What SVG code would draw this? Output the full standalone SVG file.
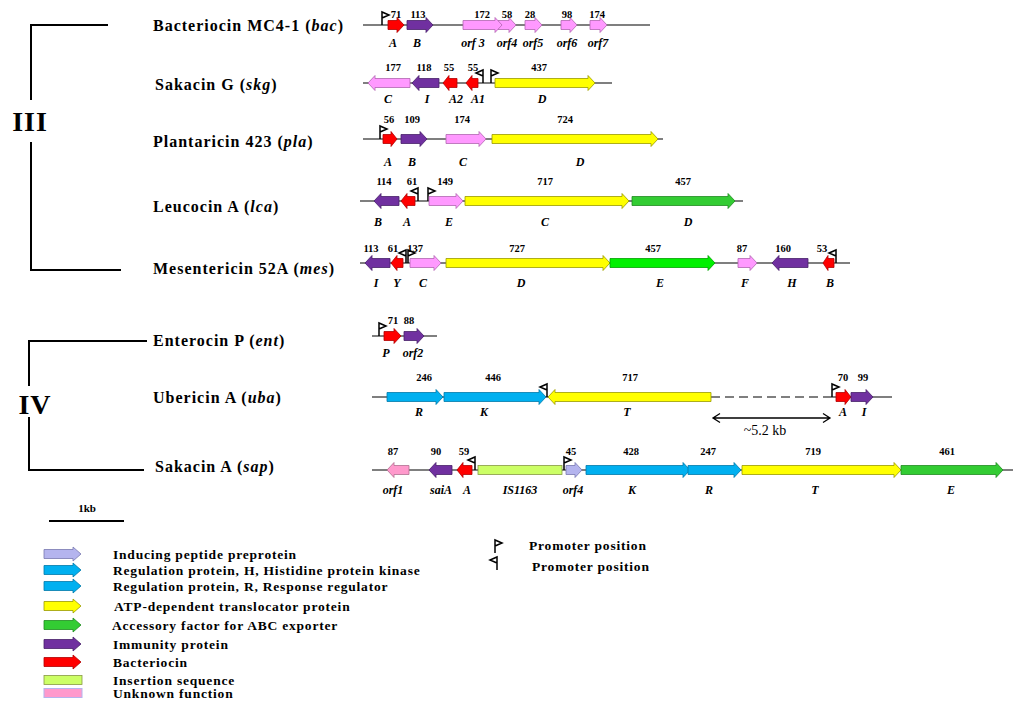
<svg xmlns="http://www.w3.org/2000/svg" xmlns:xlink="http://www.w3.org/1999/xlink" width="1024" height="709" viewBox="0 0 1024 709">
<style>
text{font-family:"Liberation Serif","Times New Roman",serif;fill:#000}
.num{font-size:10.5px;font-weight:bold;text-anchor:middle}
.gl{font-size:12px;font-weight:bold;font-style:italic;text-anchor:middle}
.rl{font-size:16px;font-weight:bold;letter-spacing:1px}
.lg{font-size:13.5px;font-weight:bold;letter-spacing:0.8px}
.it{font-style:italic}
.cls{font-size:28px;font-weight:bold;text-anchor:middle;letter-spacing:1px}
.bb{stroke:#555;stroke-width:1.5;fill:none}
.tree{stroke:#000;stroke-width:2;fill:none}
.red{fill:#ff0000;stroke:#b00000;stroke-width:0.8}
.pur{fill:#7030a0;stroke:#48206a;stroke-width:0.8}
.pink{fill:#ff99ff;stroke:#b066b0;stroke-width:0.8}
.rose{fill:#ff99cc;stroke:#b07090;stroke-width:0.8}
.yel{fill:#ffff00;stroke:#999900;stroke-width:0.8}
.grn{fill:#33cc33;stroke:#1f8a1f;stroke-width:0.8}
.lime{fill:#00f000;stroke:#00a000;stroke-width:0.8}
.blue{fill:#00b0f0;stroke:#0078a8;stroke-width:0.8}
.lav{fill:#b4b4ee;stroke:#7878b0;stroke-width:0.8}
.ins{fill:#ccff66;stroke:#889944;stroke-width:0.8}
.prom{fill:#fff;stroke:#000;stroke-width:1.5}
</style>
<defs>
<path id="pR" d="M0,0 V-13 L7,-10 L0,-7"/>
<path id="pL" d="M0,0 V-13 L-7,-10 L0,-7"/>
</defs>
<rect width="1024" height="709" fill="#fff"/>

<g id="connectors">
<path class="tree" d="M108,25 H31 V100 M31,142 V270 H121"/>
<path class="tree" d="M147,341 H29 V386 M29,417 V470 H144"/>
<path class="tree" d="M49,521 H124"/>
<path class="bb" d="M363,25 H650"/>
<path class="bb" d="M363,83 H612"/>
<path class="bb" d="M363,139 H663"/>
<path class="bb" d="M360,201 H743"/>
<path class="bb" d="M360,263 H850"/>
<path class="bb" d="M372,336 H437"/>
<path class="bb" d="M372,397 H711 M832,397 H892"/>
<path class="bb" d="M711,397 H832" stroke-dasharray="9,5"/>
<path class="bb" d="M372,470 H1013"/>
<path d="M713,418 H830 M720,413.5 L713,418 L720,422.5 M823,413.5 L830,418 L823,422.5" fill="none" stroke="#000" stroke-width="1.3"/>
</g>

<g id="labels">
<text class="cls" x="30" y="131">III</text>
<text class="cls" x="35" y="414">IV</text>
<text x="87" y="512" style="font-size:11px;font-weight:bold;text-anchor:middle">1kb</text>
<text x="765" y="435" style="font-size:14px;text-anchor:middle">~5.2 kb</text>
</g>

<g id="row-bac">
<text class="rl" x="153" y="31">Bacteriocin MC4-1  (<tspan class="it">bac</tspan>)</text>
<use href="#pR" x="382" y="25" class="prom"/>
<polygon class="red" points="388,20.5 397,20.5 397,17.5 404,25 397,32.5 397,29.5 388,29.5"/>
<polygon class="pur" points="407,20.5 426,20.5 426,17.5 433,25 426,32.5 426,29.5 407,29.5"/>
<polygon class="pink" points="498,20.5 509,20.5 509,17.5 516,25 509,32.5 509,29.5 498,29.5"/>
<polygon class="pink" points="463,20.5 495,20.5 495,17.5 502,25 495,32.5 495,29.5 463,29.5"/>
<polygon class="pink" points="525,20.5 535,20.5 535,17.5 542,25 535,32.5 535,29.5 525,29.5"/>
<polygon class="pink" points="561,20.5 570,20.5 570,17.5 577,25 570,32.5 570,29.5 561,29.5"/>
<polygon class="pink" points="590,20.5 600,20.5 600,17.5 607,25 600,32.5 600,29.5 590,29.5"/>
<text class="num" x="396" y="18">71</text><text class="num" x="418" y="18">113</text><text class="num" x="482" y="18">172</text><text class="num" x="507" y="18">58</text><text class="num" x="530" y="18">28</text><text class="num" x="567" y="18">98</text><text class="num" x="597" y="18">174</text>
<text class="gl" x="393" y="47">A</text><text class="gl" x="417" y="47">B</text><text class="gl" x="473" y="47">orf 3</text><text class="gl" x="507" y="47">orf4</text><text class="gl" x="533" y="47">orf5</text><text class="gl" x="567" y="47">orf6</text><text class="gl" x="598" y="47">orf7</text>
</g>

<g id="row-skg">
<text class="rl" x="155" y="90">Sakacin G (<tspan class="it">skg</tspan>)</text>
<polygon class="pink" points="410,78.5 375,78.5 375,75.5 368,83 375,90.5 375,87.5 410,87.5"/>
<polygon class="pur" points="439,78.5 419,78.5 419,75.5 412,83 419,90.5 419,87.5 439,87.5"/>
<polygon class="red" points="457,78.5 449,78.5 449,75.5 443,83 449,90.5 449,87.5 457,87.5"/>
<polygon class="red" points="478,78.5 472,78.5 472,75.5 466,83 472,90.5 472,87.5 478,87.5"/>
<use href="#pL" x="483" y="83" class="prom"/>
<use href="#pR" x="491" y="83" class="prom"/>
<polygon class="yel" points="495,78.5 588,78.5 588,75.5 595,83 588,90.5 588,87.5 495,87.5"/>
<text class="num" x="393" y="71">177</text><text class="num" x="424" y="71">118</text><text class="num" x="449" y="71">55</text><text class="num" x="473" y="71">55</text><text class="num" x="539" y="71">437</text>
<text class="gl" x="388" y="103">C</text><text class="gl" x="427" y="103">I</text><text class="gl" x="456" y="103">A2</text><text class="gl" x="478" y="103">A1</text><text class="gl" x="542" y="103">D</text>
</g>

<g id="row-pla">
<text class="rl" x="153" y="147">Plantaricin 423 (<tspan class="it">pla</tspan>)</text>
<use href="#pR" x="380" y="139" class="prom"/>
<polygon class="red" points="383,134.5 391,134.5 391,131.5 397,139 391,146.5 391,143.5 383,143.5"/>
<polygon class="pur" points="401,134.5 420,134.5 420,131.5 427,139 420,146.5 420,143.5 401,143.5"/>
<polygon class="pink" points="446,134.5 479,134.5 479,131.5 486,139 479,146.5 479,143.5 446,143.5"/>
<polygon class="yel" points="492,134.5 651,134.5 651,131.5 658,139 651,146.5 651,143.5 492,143.5"/>
<text class="num" x="389" y="123">56</text><text class="num" x="412" y="123">109</text><text class="num" x="462" y="123">174</text><text class="num" x="565" y="123">724</text>
<text class="gl" x="388" y="166">A</text><text class="gl" x="412" y="166">B</text><text class="gl" x="463" y="166">C</text><text class="gl" x="580" y="166">D</text>
</g>

<g id="row-lca">
<text class="rl" x="153" y="212">Leucocin A  (<tspan class="it">lca</tspan>)</text>
<polygon class="pur" points="399,196.5 381,196.5 381,193.5 374,201 381,208.5 381,205.5 399,205.5"/>
<polygon class="red" points="415,196.5 407,196.5 407,193.5 401,201 407,208.5 407,205.5 415,205.5"/>
<use href="#pL" x="418" y="201" class="prom"/>
<use href="#pR" x="428" y="201" class="prom"/>
<polygon class="pink" points="429,196.5 456,196.5 456,193.5 463,201 456,208.5 456,205.5 429,205.5"/>
<polygon class="yel" points="465,196.5 622,196.5 622,193.5 629,201 622,208.5 622,205.5 465,205.5"/>
<polygon class="grn" points="632,196.5 728,196.5 728,193.5 735,201 728,208.5 728,205.5 632,205.5"/>
<text class="num" x="384" y="185">114</text><text class="num" x="412" y="185">61</text><text class="num" x="445" y="185">149</text><text class="num" x="545" y="185">717</text><text class="num" x="683" y="185">457</text>
<text class="gl" x="378" y="226">B</text><text class="gl" x="407" y="226">A</text><text class="gl" x="449" y="226">E</text><text class="gl" x="545" y="226">C</text><text class="gl" x="688" y="226">D</text>
</g>

<g id="row-mes">
<text class="rl" x="153" y="274">Mesentericin 52A  (<tspan class="it">mes</tspan>)</text>
<polygon class="pur" points="390,258.5 372,258.5 372,255.5 365,263 372,270.5 372,267.5 390,267.5"/>
<polygon class="red" points="403,258.5 397,258.5 397,255.5 391,263 397,270.5 397,267.5 403,267.5"/>
<use href="#pL" x="406" y="263" class="prom"/>
<use href="#pR" x="408" y="263" class="prom"/>
<polygon class="pink" points="410,258.5 434,258.5 434,255.5 441,263 434,270.5 434,267.5 410,267.5"/>
<polygon class="yel" points="446,258.5 603,258.5 603,255.5 610,263 603,270.5 603,267.5 446,267.5"/>
<polygon class="lime" points="610,258.5 708,258.5 708,255.5 715,263 708,270.5 708,267.5 610,267.5"/>
<polygon class="pink" points="738,258.5 750,258.5 750,255.5 757,263 750,270.5 750,267.5 738,267.5"/>
<polygon class="pur" points="808,258.5 779,258.5 779,255.5 772,263 779,270.5 779,267.5 808,267.5"/>
<polygon class="red" points="834,258.5 828,258.5 828,255.5 823,263 828,270.5 828,267.5 834,267.5"/>
<use href="#pL" x="836" y="263" class="prom"/>
<text class="num" x="371" y="252">113</text><text class="num" x="393" y="252">61</text><text class="num" x="415" y="252">137</text><text class="num" x="517" y="252">727</text><text class="num" x="653" y="252">457</text><text class="num" x="742" y="252">87</text><text class="num" x="783" y="252">160</text><text class="num" x="822" y="252">53</text>
<text class="gl" x="376" y="287">I</text><text class="gl" x="397" y="287">Y</text><text class="gl" x="423" y="287">C</text><text class="gl" x="521" y="287">D</text><text class="gl" x="660" y="287">E</text><text class="gl" x="745" y="287">F</text><text class="gl" x="792" y="287">H</text><text class="gl" x="830" y="287">B</text>
</g>

<g id="row-ent">
<text class="rl" x="153" y="346">Enterocin P (<tspan class="it">ent</tspan>)</text>
<use href="#pR" x="379" y="336" class="prom"/>
<polygon class="red" points="384,331.5 394,331.5 394,328.5 401,336 394,343.5 394,340.5 384,340.5"/>
<polygon class="pur" points="404,331.5 417,331.5 417,328.5 424,336 417,343.5 417,340.5 404,340.5"/>
<text class="num" x="393" y="324">71</text><text class="num" x="409" y="324">88</text>
<text class="gl" x="386" y="357">P</text><text class="gl" x="413" y="357">orf2</text>
</g>

<g id="row-uba">
<text class="rl" x="153" y="403">Ubericin A  (<tspan class="it">uba</tspan>)</text>
<polygon class="blue" points="387,392.5 436,392.5 436,389.5 443,397 436,404.5 436,401.5 387,401.5"/>
<polygon class="blue" points="444,392.5 539,392.5 539,389.5 546,397 539,404.5 539,401.5 444,401.5"/>
<polygon class="yel" points="711,392.5 555,392.5 555,389.5 548,397 555,404.5 555,401.5 711,401.5"/>
<use href="#pL" x="547" y="397" class="prom"/>
<use href="#pR" x="832" y="397" class="prom"/>
<polygon class="red" points="836,392.5 845,392.5 845,389.5 851,397 845,404.5 845,401.5 836,401.5"/>
<polygon class="pur" points="851,392.5 866,392.5 866,389.5 873,397 866,404.5 866,401.5 851,401.5"/>
<text class="num" x="424" y="381">246</text><text class="num" x="493" y="381">446</text><text class="num" x="630" y="381">717</text><text class="num" x="843" y="381">70</text><text class="num" x="863" y="381">99</text>
<text class="gl" x="419" y="416">R</text><text class="gl" x="484" y="416">K</text><text class="gl" x="627" y="416">T</text><text class="gl" x="843" y="416">A</text><text class="gl" x="864" y="416">I</text>
</g>

<g id="row-sap">
<text class="rl" x="155" y="472">Sakacin A  (<tspan class="it">sap</tspan>)</text>
<polygon class="rose" points="409,465.5 394,465.5 394,462.5 387,470 394,477.5 394,474.5 409,474.5"/>
<polygon class="pur" points="452,465.5 436,465.5 436,462.5 429,470 436,477.5 436,474.5 452,474.5"/>
<polygon class="red" points="472,465.5 463,465.5 463,462.5 457,470 463,477.5 463,474.5 472,474.5"/>
<use href="#pL" x="475" y="470" class="prom"/>
<rect class="ins" x="478" y="465.5" width="84" height="9"/>
<use href="#pR" x="564" y="470" class="prom"/>
<polygon class="lav" points="566,465.5 575,465.5 575,462.5 582,470 575,477.5 575,474.5 566,474.5"/>
<polygon class="blue" points="586,465.5 683,465.5 683,462.5 690,470 683,477.5 683,474.5 586,474.5"/>
<polygon class="blue" points="688,465.5 734,465.5 734,462.5 741,470 734,477.5 734,474.5 688,474.5"/>
<polygon class="yel" points="742,465.5 894,465.5 894,462.5 901,470 894,477.5 894,474.5 742,474.5"/>
<polygon class="grn" points="901,465.5 996,465.5 996,462.5 1003,470 996,477.5 996,474.5 901,474.5"/>
<text class="num" x="393" y="455">87</text><text class="num" x="436" y="455">90</text><text class="num" x="464" y="455">59</text><text class="num" x="571" y="455">45</text><text class="num" x="631" y="455">428</text><text class="num" x="708" y="455">247</text><text class="num" x="813" y="455">719</text><text class="num" x="947" y="455">461</text>
<text class="gl" x="393" y="494">orf1</text><text class="gl" x="441" y="494">saiA</text><text class="gl" x="467" y="494">A</text><text class="gl" x="520" y="494">IS1163</text><text class="gl" x="573" y="494">orf4</text><text class="gl" x="632" y="494">K</text><text class="gl" x="709" y="494">R</text><text class="gl" x="815" y="494">T</text><text class="gl" x="951" y="494">E</text>
</g>

<g id="legend">
<polygon class="lav" points="44,549.5 73,549.5 73,547 81,554 73,561 73,558.5 44,558.5"/>
<text class="lg" x="113" y="559">Inducing peptide preprotein</text>
<polygon class="blue" points="44,565.5 73,565.5 73,563 81,570 73,577 73,574.5 44,574.5"/>
<text class="lg" x="113" y="575">Regulation protein, H, Histidine protein kinase</text>
<polygon class="blue" points="44,581.5 73,581.5 73,579 81,586 73,593 73,590.5 44,590.5"/>
<text class="lg" x="113" y="591">Regulation protein, R, Response regulator</text>
<polygon class="yel" points="44,601.5 73,601.5 73,599 81,606 73,613 73,610.5 44,610.5"/>
<text class="lg" x="114" y="611">ATP-dependent translocator protein</text>
<polygon class="grn" points="44,620.5 73,620.5 73,618 81,625 73,632 73,629.5 44,629.5"/>
<text class="lg" x="112" y="630">Accessory factor for ABC exporter</text>
<polygon class="pur" points="44,639.5 73,639.5 73,637 81,644 73,651 73,648.5 44,648.5"/>
<text class="lg" x="113" y="649">Immunity protein</text>
<polygon class="red" points="44,657.5 73,657.5 73,655 81,662 73,669 73,666.5 44,666.5"/>
<text class="lg" x="113" y="667">Bacteriocin</text>
<rect class="ins" x="44" y="675.5" width="38" height="9"/>
<text class="lg" x="113" y="685">Insertion sequence</text>
<rect x="44" y="688.5" width="38" height="9" fill="#ff99cc" stroke="#b4b4ee" stroke-width="1"/>
<text class="lg" x="113" y="698">Unknown function</text>
<use href="#pR" x="495" y="553" class="prom"/>
<text class="lg" x="529" y="550">Promoter position</text>
<use href="#pL" x="497" y="570" class="prom"/>
<text class="lg" x="532" y="571">Promoter position</text>
</g>
</svg>
